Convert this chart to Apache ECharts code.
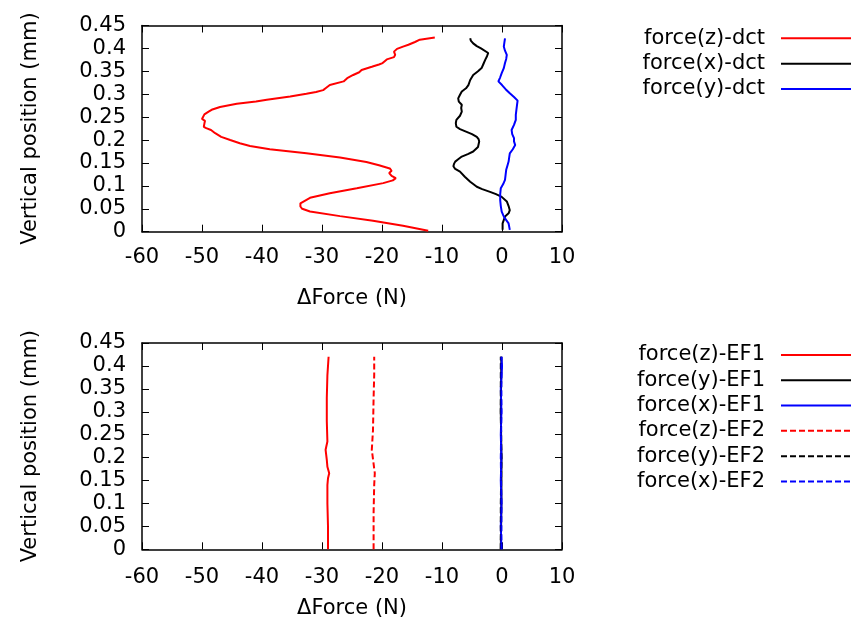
<!DOCTYPE html>
<html>
<head>
<meta charset="utf-8">
<script src="https://cdn.jsdelivr.net/npm/echarts@6/dist/echarts.min.js"></script>
<style>
html,body{margin:0;padding:0;background:#fff;}
#chart{width:852px;height:631px;}
</style>
</head>
<body>
<div id="chart"></div>
<script>
// ---------- data (position in mm, force difference in N) ----------
const xTicks = [-60, -50, -40, -30, -20, -10, 0, 10];
const yTicks = ['0', '0.05', '0.1', '0.15', '0.2', '0.25', '0.3', '0.35', '0.4', '0.45'];

const dctZPos = [0.002,0.013,0.024,0.034,0.044,0.050,0.055,0.062,0.066,0.074,0.084,0.095,0.106,0.112,0.117,0.122,0.128,0.133,0.138,0.145,0.152,0.162,0.171,0.180,0.187,0.193,0.200,0.207,0.215,0.222,0.226,0.229,0.236,0.242,0.246,0.250,0.256,0.262,0.266,0.272,0.279,0.284,0.288,0.295,0.301,0.305,0.309,0.313,0.320,0.328,0.335,0.342,0.348,0.353,0.360,0.365,0.368,0.376,0.381,0.386,0.393,0.399,0.404,0.408,0.414,0.419,0.424];
const dctZForce = [-12.3,-16.5,-21.5,-27,-32,-33.3,-33.6,-33.6,-33.3,-32,-28.7,-24.2,-19.8,-18.2,-17.7,-18.4,-18.8,-18.4,-18.7,-20.5,-22.6,-27,-32.6,-38.7,-42,-43.7,-45.3,-46.8,-47.8,-48.5,-49.3,-49.7,-49.6,-49.5,-50,-50.1,-49.6,-48.9,-48.4,-47,-44.2,-41,-39.2,-35.3,-32.6,-31,-29.8,-29.4,-28.7,-26.4,-25.8,-24.8,-23.8,-23.4,-21.7,-20.5,-19.9,-19.2,-18,-17.8,-18,-17.5,-16.5,-15.6,-14.5,-13.7,-11.2];

const dctXPos = [0.004,0.018,0.033,0.040,0.047,0.056,0.066,0.076,0.082,0.087,0.093,0.098,0.104,0.109,0.120,0.131,0.137,0.143,0.148,0.153,0.158,0.164,0.170,0.175,0.185,0.197,0.202,0.207,0.213,0.218,0.224,0.229,0.237,0.244,0.253,0.262,0.270,0.277,0.284,0.291,0.299,0.306,0.313,0.320,0.331,0.342,0.350,0.357,0.366,0.375,0.383,0.390,0.400,0.405,0.411,0.417,0.422];
const dctXForce = [0.1,0.1,0.5,1.1,1.3,1.1,0.8,-0.05,-1,-2,-3.3,-4.2,-4.8,-5.3,-6.2,-7,-7.8,-8.1,-8.0,-7.8,-7.3,-6.7,-5.6,-4.8,-4.0,-3.8,-3.9,-4.2,-5.0,-5.9,-7.0,-7.6,-7.7,-7.6,-7.0,-6.7,-6.8,-6.7,-7.2,-7.3,-7.0,-6.7,-6.0,-5.6,-5.3,-4.8,-4.0,-3.4,-3.1,-2.8,-2.5,-2.3,-3.5,-4.2,-4.8,-5.2,-5.3];

const dctYPos = [0.004,0.018,0.029,0.036,0.044,0.056,0.069,0.082,0.095,0.104,0.113,0.124,0.135,0.144,0.153,0.162,0.171,0.180,0.189,0.197,0.204,0.213,0.222,0.233,0.244,0.255,0.266,0.276,0.286,0.294,0.302,0.311,0.320,0.328,0.337,0.346,0.357,0.368,0.377,0.386,0.395,0.404,0.413,0.422];
const dctYForce = [1.3,1.1,0.5,0.2,-0.05,-0.2,-0.3,-0.3,-0.2,0.2,0.5,0.6,0.7,0.9,1.1,1.2,1.3,1.8,2.2,2.0,2.0,1.7,1.6,2.0,2.3,2.3,2.4,2.5,2.6,2.0,1.3,0.6,0.0,-0.6,-0.3,-0.05,0.3,0.5,0.7,0.8,0.5,0.3,0.4,0.5];

const ef1ZPos = [0,0.05,0.1,0.14,0.155,0.166,0.18,0.195,0.217,0.235,0.28,0.33,0.38,0.42];
const ef1ZForce = [-29.0,-29.0,-29.1,-29.1,-29.0,-28.8,-29.1,-29.2,-29.4,-29.1,-29.2,-29.2,-29.1,-28.9];
const ef2ZPos = [0,0.08,0.14,0.166,0.217,0.26,0.33,0.38,0.42];
const ef2ZForce = [-21.4,-21.4,-21.3,-21.2,-21.7,-21.5,-21.4,-21.3,-21.3];
const ef1YPos = [0,0.1,0.2,0.3,0.42];
const ef1YForce = [-0.2,-0.1,-0.1,-0.2,-0.1];
const ef1XPos = [0,0.05,0.1,0.15,0.2,0.25,0.3,0.35,0.4,0.42];
const ef1XForce = [-0.1,-0.2,-0.1,-0.2,-0.1,-0.2,-0.1,-0.2,0.0,-0.1];
const ef2YPos = [0,0.1,0.2,0.3,0.42];
const ef2YForce = [-0.2,-0.2,-0.1,-0.2,-0.2];
const ef2XPos = [0,0.1,0.2,0.3,0.42];
const ef2XForce = [-0.1,-0.1,-0.2,-0.1,-0.1];

// ---------- chart ----------
const FONT = 'DejaVu Sans';
const FS = 21;
const pairs = (f, p) => f.map((v, i) => [v, p[i]]);

function xAx(grid, pos, show, margin, gap) {
  return {
    type: 'value', gridIndex: grid, position: pos, min: -60, max: 10, interval: 10,
    name: show ? '\u0394Force (N)' : '', nameLocation: 'middle', nameGap: gap,
    nameTextStyle: {fontFamily: FONT, fontSize: FS, color: '#000'},
    axisLine: {show: true, onZero: false, lineStyle: {color: '#000', width: 1.5}},
    axisTick: {show: true, inside: true, length: 7, lineStyle: {color: '#000', width: 1}},
    axisLabel: {show: show, margin: margin, fontFamily: FONT, fontSize: FS, color: '#000',
      formatter: v => String(xTicks[Math.round((v + 60) / 10)])},
    splitLine: {show: false}
  };
}
function yAx(grid, pos, show) {
  return {
    type: 'value', gridIndex: grid, position: pos, min: 0, max: 0.45, interval: 0.05,
    name: show ? 'Vertical position (mm)' : '', nameLocation: 'middle', nameGap: 101, nameRotate: 90,
    nameTextStyle: {fontFamily: FONT, fontSize: FS, color: '#000'},
    axisLine: {show: true, onZero: false, lineStyle: {color: '#000', width: 1.5}},
    axisTick: {show: true, inside: true, length: 7, lineStyle: {color: '#000', width: 1}},
    axisLabel: {show: show, margin: 16, fontFamily: FONT, fontSize: FS, color: '#000',
      formatter: v => yTicks[Math.round(v / 0.05)]},
    splitLine: {show: false}
  };
}
function ser(name, xi, yi, f, p, color, dashed) {
  return {
    name: name, type: 'line', xAxisIndex: xi, yAxisIndex: yi, data: pairs(f, p),
    showSymbol: false, symbol: 'none', smooth: false, animation: false,
    lineStyle: {color: color, width: 2, type: dashed ? [6, 3] : 'solid'},
    itemStyle: {color: color}
  };
}
const legendCommon = {
  orient: 'vertical', right: 0, align: 'right', padding: 0, itemGap: 0,
  itemWidth: 70, itemHeight: 14, selectedMode: false,
  itemStyle: {opacity: 0},
  lineStyle: {width: 2},
  textStyle: {fontFamily: FONT, fontSize: FS, color: '#000', lineHeight: 25.3, padding: [0, 11, 0, 0]}
};

const chart = echarts.init(document.getElementById('chart'), null, {renderer: 'canvas'});
chart.setOption({
  backgroundColor: '#fff',
  animation: false,
  grid: [
    {left: 142, top: 25.5, width: 420, height: 206.2, containLabel: false},
    {left: 142, top: 343, width: 420, height: 206.3, containLabel: false}
  ],
  xAxis: [xAx(0, 'bottom', true, 15, 56), xAx(0, 'top', false, 0, 0),
          xAx(1, 'bottom', true, 18, 49), xAx(1, 'top', false, 0, 0)],
  yAxis: [yAx(0, 'left', true), yAx(0, 'right', false),
          yAx(1, 'left', true), yAx(1, 'right', false)],
  legend: [
    Object.assign({}, legendCommon, {top: 25.7, data: ['force(z)-dct', 'force(x)-dct', 'force(y)-dct']}),
    Object.assign({}, legendCommon, {top: 342.3, data: ['force(z)-EF1', 'force(y)-EF1', 'force(x)-EF1', 'force(z)-EF2', 'force(y)-EF2', 'force(x)-EF2']})
  ],
  series: [
    ser('force(z)-dct', 0, 0, dctZForce, dctZPos, '#ff0000', false),
    ser('force(x)-dct', 0, 0, dctXForce, dctXPos, '#000000', false),
    ser('force(y)-dct', 0, 0, dctYForce, dctYPos, '#0000ff', false),
    ser('force(z)-EF1', 2, 2, ef1ZForce, ef1ZPos, '#ff0000', false),
    ser('force(y)-EF1', 2, 2, ef1YForce, ef1YPos, '#000000', false),
    ser('force(x)-EF1', 2, 2, ef1XForce, ef1XPos, '#0000ff', false),
    ser('force(z)-EF2', 2, 2, ef2ZForce, ef2ZPos, '#ff0000', true),
    ser('force(y)-EF2', 2, 2, ef2YForce, ef2YPos, '#000000', true),
    ser('force(x)-EF2', 2, 2, ef2XForce, ef2XPos, '#0000ff', true)
  ]
});
</script>
</body>
</html>
